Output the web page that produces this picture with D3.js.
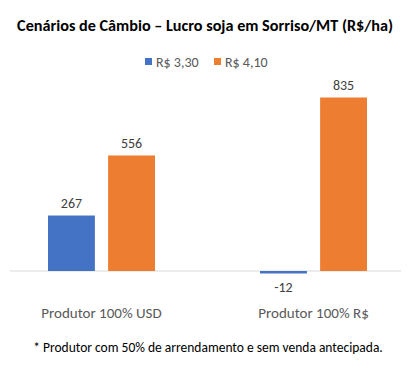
<!DOCTYPE html>
<html><head><meta charset="utf-8">
<script src="https://cdn.jsdelivr.net/npm/d3@7"></script>
<style>body{margin:0;background:#fff}svg{display:block}</style>
</head><body>
<svg id="c" width="410" height="370"></svg>
<script>
const categories = ["Produtor 100% USD", "Produtor 100% R$"];
const seriesNames = ["R$ 3,30", "R$ 4,10"];
const valuesR330 = [267, -12];
const valuesR410 = [556, 835];
const colors = ["#4472C4", "#ED7D31"];
const title = "Cenários de Câmbio – Lucro soja em Sorriso/MT (R$/ha)";
const footnote = "* Produtor com 50% de arrendamento e sem venda antecipada.";

const seriesValues = [valuesR330, valuesR410];
const data = categories.map((c, i) => ({cat: c, vals: seriesNames.map((s, j) => ({s, j, v: seriesValues[j][i]}))}));

const svg = d3.select("#c");
const font = "Calibri, Carlito, 'Open Sans', sans-serif";

const x0 = d3.scaleBand().domain(categories).range([-4.5, 419.5]).paddingInner(0).paddingOuter(0);
const groupW = 107;
const x1 = d3.scaleBand().domain(seriesNames).range([0, groupW]).paddingInner(0.22);
const y = d3.scaleLinear().domain([0, 835]).range([271, 97.5]);

// title
svg.append("text").attr("x", 205).attr("y", 31).attr("text-anchor", "middle")
  .style("font-family", font).style("font-weight", "bold").style("font-size", "16.2px").attr("fill", "#000").text(title);

// legend
const lg = svg.append("g").attr("transform", "translate(0,62)");
const legX = [145, 214];
seriesNames.forEach((s, j) => {
  lg.append("rect").attr("x", legX[j]).attr("y", -4).attr("width", 7).attr("height", 7).attr("fill", colors[j]);
  lg.append("text").attr("x", legX[j] + 11).attr("y", 0).attr("dy", "0.35em")
    .style("font-family", font).style("font-size", "14px").attr("fill", "#595959").text(s);
});

// axis line
svg.append("line").attr("x1", 10).attr("x2", 401).attr("y1", y(0)).attr("y2", y(0))
  .attr("stroke", "#d9d9d9").attr("stroke-width", 1);

const g = svg.selectAll("g.grp").data(data).enter().append("g").attr("class", "grp")
  .attr("transform", d => `translate(${x0(d.cat) + x0.bandwidth() / 2 - groupW / 2},0)`);

g.selectAll("rect").data(d => d.vals).enter().append("rect")
  .attr("x", d => x1(d.s)).attr("width", x1.bandwidth())
  .attr("y", d => Math.min(y(d.v), y(0))).attr("height", d => Math.abs(y(d.v) - y(0)))
  .attr("fill", d => colors[d.j]);

g.selectAll("text.v").data(d => d.vals).enter().append("text").attr("class", "v")
  .attr("x", d => x1(d.s) + x1.bandwidth() / 2)
  .attr("y", d => d.v >= 0 ? y(d.v) - 7.5 : y(d.v) + 18.5)
  .attr("text-anchor", "middle")
  .style("font-family", font).style("font-size", "14px").attr("fill", "#404040").text(d => d.v);

// category labels
svg.selectAll("text.cat").data(categories).enter().append("text").attr("class", "cat")
  .attr("x", d => x0(d) + x0.bandwidth() / 2).attr("y", 318).attr("text-anchor", "middle")
  .style("font-family", font).style("font-size", "15px").attr("fill", "#595959").text(d => d);

svg.append("text").attr("x", 208).attr("y", 352).attr("text-anchor", "middle")
  .style("font-family", font).style("font-size", "13.5px").attr("fill", "#000").text(footnote);
</script>
</body></html>
